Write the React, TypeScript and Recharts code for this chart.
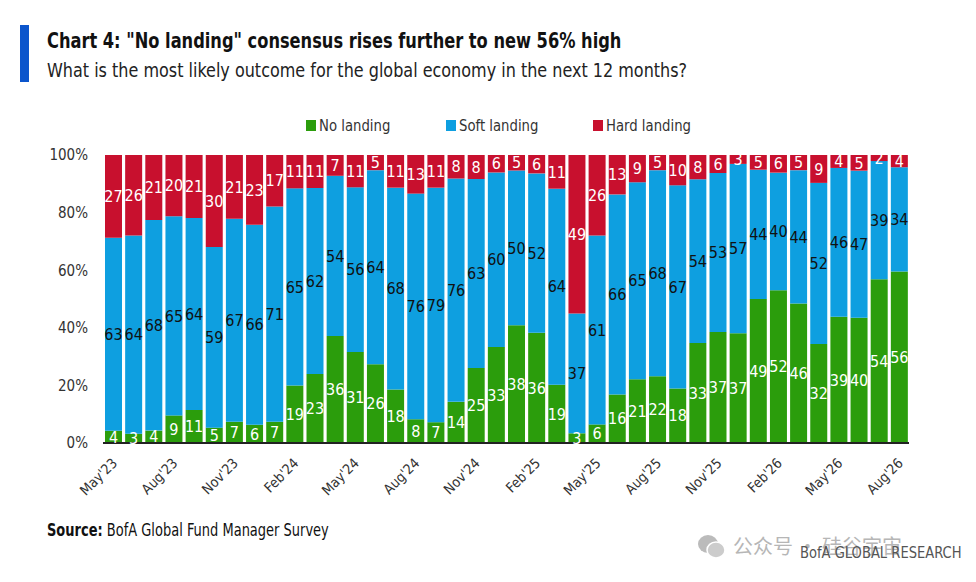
import { BarChart, Bar, XAxis, YAxis, LabelList } from "recharts";

// survey months, May'23 .. Aug'26
const months = [
  "May'23", "Jun'23", "Jul'23", "Aug'23", "Sep'23", "Oct'23", "Nov'23", "Dec'23", "Jan'24", "Feb'24",
  "Mar'24", "Apr'24", "May'24", "Jun'24", "Jul'24", "Aug'24", "Sep'24", "Oct'24", "Nov'24", "Dec'24",
  "Jan'25", "Feb'25", "Mar'25", "Apr'25", "May'25", "Jun'25", "Jul'25", "Aug'25", "Sep'25", "Oct'25",
  "Nov'25", "Dec'25", "Jan'26", "Feb'26", "Mar'26", "Apr'26", "May'26", "Jun'26", "Jul'26", "Aug'26",
];

const noLanding = [
  4, 3, 4, 9, 11, 5, 7, 6, 7, 19, 23, 36, 31, 26, 18, 8, 7, 14, 25, 33,
  38, 36, 19, 3, 6, 16, 21, 22, 18, 33, 37, 37, 49, 52, 46, 32, 39, 40, 54, 56,
];
const softLanding = [
  63, 64, 68, 65, 64, 59, 67, 66, 71, 65, 62, 54, 56, 64, 68, 76, 79, 76, 63, 60,
  50, 52, 64, 37, 61, 66, 65, 68, 67, 54, 53, 57, 44, 40, 44, 52, 46, 47, 39, 34,
];
const hardLanding = [
  27, 26, 21, 20, 21, 30, 21, 23, 17, 11, 11, 7, 11, 5, 11, 13, 11, 8, 8, 6,
  5, 6, 11, 49, 26, 13, 9, 5, 10, 8, 6, 3, 5, 6, 5, 9, 4, 5, 2, 4,
];

const yTicks = [0, 0.2, 0.4, 0.6, 0.8, 1];

const GREEN = "#2b9d0c";
const BLUE = "#0e9fe0";
const RED = "#c8102e";
const FONT = '"Liberation Sans Narrow", "DejaVu Sans Condensed", "Open Sans", sans-serif';

const data = months.map((m, i) => ({
  month: m,
  no: noLanding[i],
  soft: softLanding[i],
  hard: hardLanding[i],
}));

const MonthTick = ({ x, y, payload }: any) => {
  const ax = x + 5;
  const ay = y + 13;
  return (
    <text
      x={ax}
      y={ay}
      transform={`rotate(-45, ${ax}, ${ay})`}
      textAnchor="end"
      fontSize={14}
      fill="#333"
      fontFamily={FONT}
    >
      {payload.value}
    </text>
  );
};

const squeeze = (sx: number) => ({ transform: `scaleX(${sx})`, transformOrigin: "left center", whiteSpace: "nowrap" as const });

const LegendItem = ({ color, label, left }: any) => (
  <div style={{ position: "absolute", left, top: 116, display: "flex", alignItems: "center" }}>
    <span style={{ width: 10, height: 11, background: color, marginRight: 3, display: "inline-block" }} />
    <span style={{ fontSize: 16, color: "#333", display: "inline-block", ...squeeze(0.92) }}>{label}</span>
  </div>
);

export default function App() {
  return (
    <div
      style={{
        position: "absolute",
        left: 0,
        top: 0,
        width: 976,
        height: 582,
        background: "#fff",
        fontFamily: FONT,
        overflow: "hidden",
      }}
    >
      <div style={{ position: "absolute", left: 20, top: 25, width: 9, height: 57, background: "#0b55cc" }} />
      <div style={{ position: "absolute", left: 47, top: 28, fontSize: 22, fontWeight: 700, color: "#111", ...squeeze(0.82) }}>
        Chart 4: "No landing" consensus rises further to new 56% high
      </div>
      <div style={{ position: "absolute", left: 47, top: 58, fontSize: 20, color: "#222", ...squeeze(0.89) }}>
        What is the most likely outcome for the global economy in the next 12 months?
      </div>

      <LegendItem color={GREEN} label="No landing" left={306} />
      <LegendItem color={BLUE} label="Soft landing" left={446} />
      <LegendItem color={RED} label="Hard landing" left={593} />

      <div style={{ position: "absolute", left: 0, top: 0 }}>
        <BarChart
          width={976}
          height={582}
          data={data}
          stackOffset="expand"
          margin={{ top: 155, right: 67, bottom: 79, left: 0 }}
        >
          <XAxis
            dataKey="month"
            height={60}
            interval={2}
            tickLine={false}
            axisLine={{ stroke: "#222", strokeWidth: 2 }}
            tick={<MonthTick />}
          />
          <YAxis
            width={103}
            domain={[0, 1]}
            ticks={yTicks}
            tickFormatter={(v: number) => `${Math.round(v * 100)}%`}
            axisLine={false}
            tickLine={false}
            tickSize={0}
            tickMargin={15}
            tick={{ fontSize: 15, fill: "#333", fontFamily: FONT }}
          />
          <Bar dataKey="no" stackId="a" fill={GREEN} barSize={17} isAnimationActive={false}>
            <LabelList dataKey="no" position="center" fill="#fff" fontSize={16} fontFamily={FONT} />
          </Bar>
          <Bar dataKey="soft" stackId="a" fill={BLUE} barSize={17} isAnimationActive={false}>
            <LabelList dataKey="soft" position="center" fill="#111" fontSize={16} fontFamily={FONT} />
          </Bar>
          <Bar dataKey="hard" stackId="a" fill={RED} barSize={17} isAnimationActive={false}>
            <LabelList dataKey="hard" position="center" fill="#fff" fontSize={16} fontFamily={FONT} />
          </Bar>
        </BarChart>
      </div>

      <div style={{ position: "absolute", left: 47, top: 520, fontSize: 17, color: "#111", ...squeeze(0.85) }}>
        <b>Source:</b> BofA Global Fund Manager Survey
      </div>

      <svg style={{ position: "absolute", left: 697, top: 533 }} width={30} height={28}>
        <ellipse cx={11} cy={11} rx={10} ry={9} fill="#bbb" />
        <ellipse cx={19} cy={17} rx={9} ry={8} fill="#ccc" stroke="#fff" strokeWidth={1.5} />
      </svg>
      <div
        style={{
          position: "absolute",
          left: 733,
          top: 531,
          fontSize: 20,
          color: "#aaa",
          fontFamily: '"Noto Sans CJK SC", sans-serif',
          opacity: 0.85,
          whiteSpace: "nowrap",
        }}
      >
        公众号 · 硅谷宇宙
      </div>
      <div style={{ position: "absolute", left: 800, top: 544, fontSize: 15, color: "#555", ...squeeze(0.97) }}>
        BofA GLOBAL RESEARCH
      </div>
    </div>
  );
}
